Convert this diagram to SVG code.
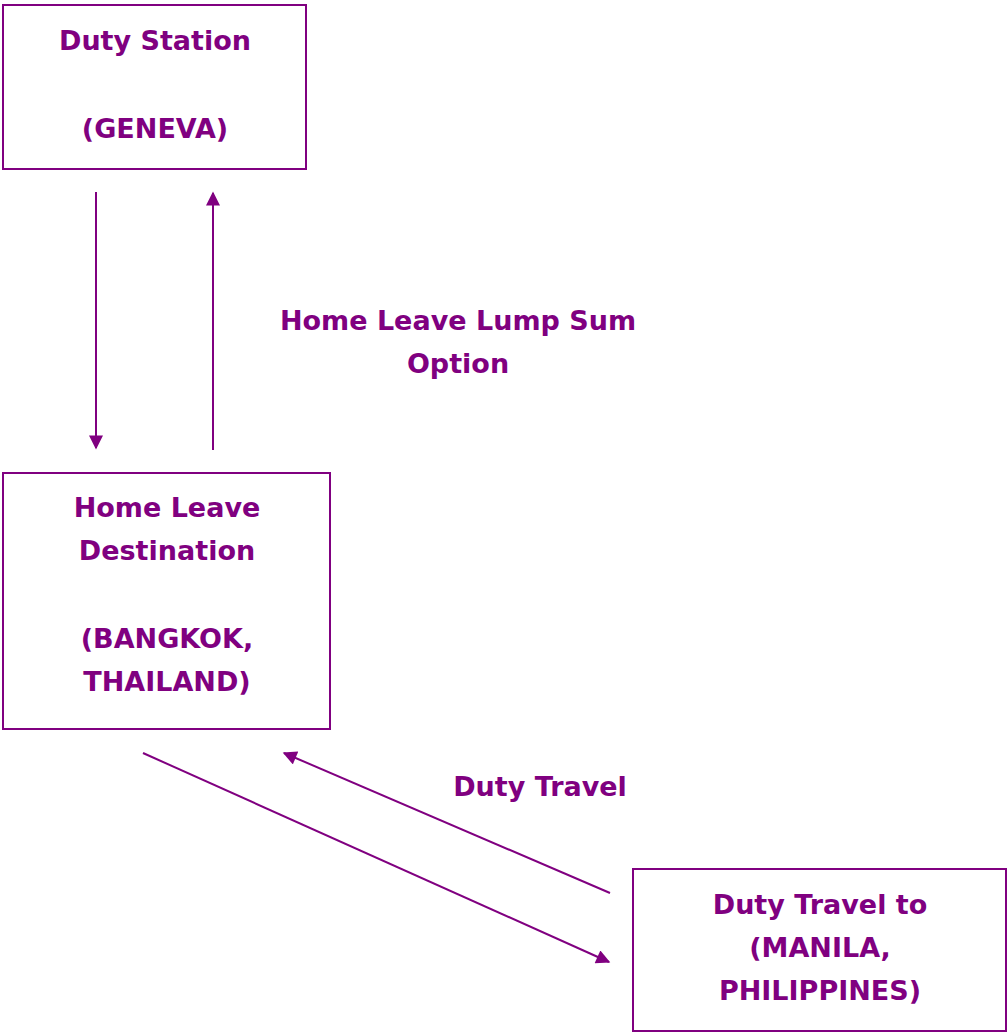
<svg xmlns="http://www.w3.org/2000/svg" width="1007" height="1033" viewBox="0 0 1007 1033">
<style>
.box{fill:#fff;stroke:#800080;stroke-width:2}
.t{font-family:"Comic Sans MS","DejaVu Sans",sans-serif;font-weight:bold;font-size:27px;fill:#800080;text-anchor:middle}
.c{stroke:#800080;stroke-width:2;fill:none}
</style>
<defs>
<marker id="ah" viewBox="0 0 10 10" refX="9" refY="5" markerWidth="15" markerHeight="14" markerUnits="userSpaceOnUse" orient="auto">
<path d="M0,0 L10,5 L0,10 z" fill="#800080"/>
</marker>
</defs>
<rect width="1007" height="1033" fill="#fff"/>
<g id="duty-station">
<rect class="box" x="3" y="5" width="303" height="164"/>
<text class="t" x="155" y="50">Duty Station</text>
<text class="t" x="155" y="138">(GENEVA)</text>
</g>
<g id="home-leave">
<rect class="box" x="3" y="473" width="327" height="256"/>
<text class="t" x="167" y="517">Home Leave</text>
<text class="t" x="167" y="560">Destination</text>
<text class="t" x="167" y="648">(BANGKOK,</text>
<text class="t" x="167" y="691">THAILAND)</text>
</g>
<g id="manila">
<rect class="box" x="633" y="869" width="373" height="162"/>
<text class="t" x="820" y="914">Duty Travel to</text>
<text class="t" x="820" y="957">(MANILA,</text>
<text class="t" x="820" y="1000">PHILIPPINES)</text>
</g>
<g id="connectors">
<line class="c" x1="96" y1="192" x2="96" y2="448" marker-end="url(#ah)"/>
<line class="c" x1="213" y1="450" x2="213" y2="193" marker-end="url(#ah)"/>
<line class="c" x1="143" y1="753" x2="609" y2="962" marker-end="url(#ah)"/>
<line class="c" x1="610" y1="893" x2="284" y2="753" marker-end="url(#ah)"/>
</g>
<g id="labels">
<text class="t" x="458" y="330">Home Leave Lump Sum</text>
<text class="t" x="458" y="373">Option</text>
<text class="t" x="540" y="796">Duty Travel</text>
</g>
</svg>
